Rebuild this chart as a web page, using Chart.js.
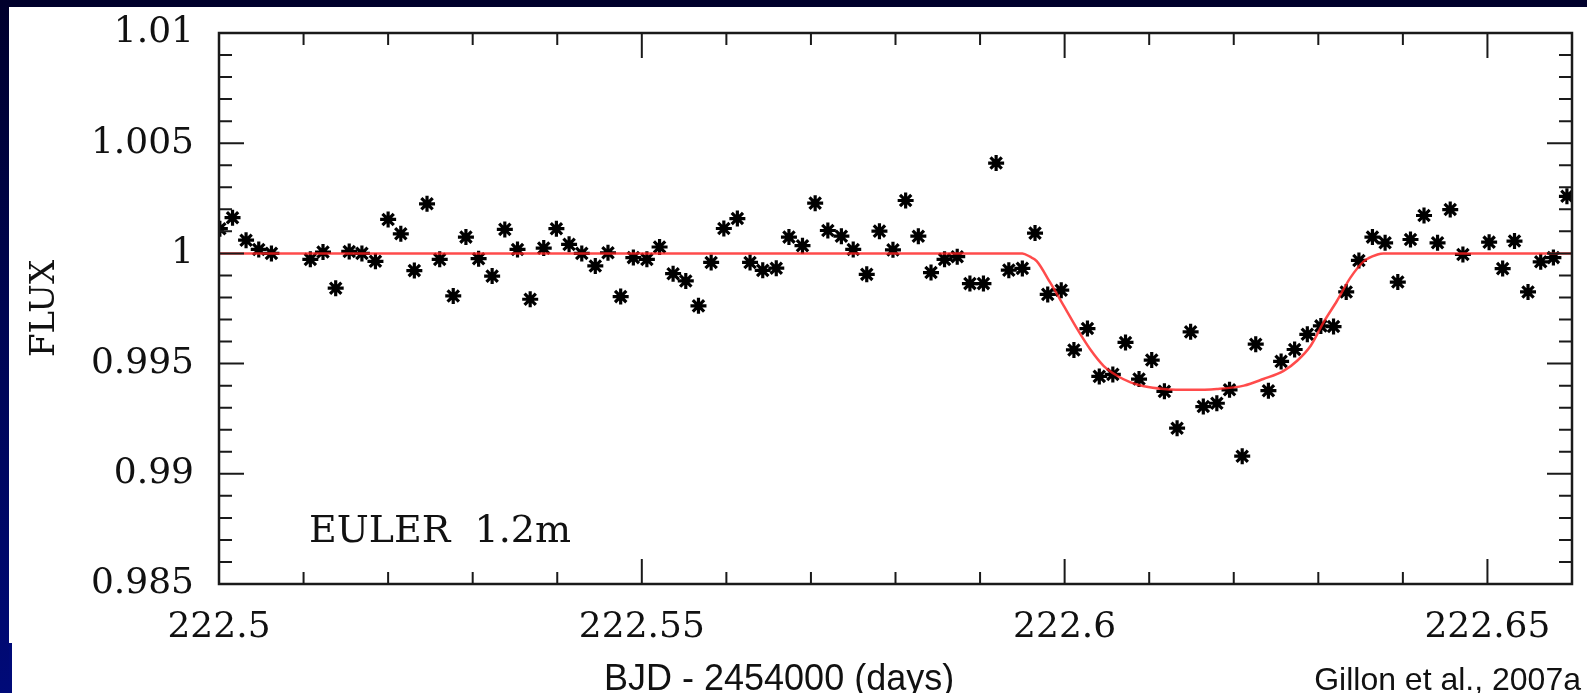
<!DOCTYPE html>
<html>
<head>
<meta charset="utf-8">
<title>EULER 1.2m light curve</title>
<script src="https://cdn.jsdelivr.net/npm/chart.js@4.4.1/dist/chart.umd.min.js"></script>
<style>
  html, body { margin: 0; padding: 0; }
  body {
    width: 1587px; height: 693px; overflow: hidden; position: relative;
    background: linear-gradient(to bottom, #00002c 0%, #000552 45%, #000a78 100%);
  }
  .panel { position: absolute; left: 9px; top: 7px; right: 0; bottom: 0; background: #fff; }
  .notch { position: absolute; left: 9px; top: 643px; width: 3px; height: 50px; background: #000a78; }
  #lc { position: absolute; left: 0; top: 0; }
  .note { position: absolute; white-space: pre; color: #111; line-height: 1; }
  #euler { left: 309px; top: 507px; font: 38px "DejaVu Serif", serif; }
  #xtitle { left: 604px; top: 657px; font: 36px "Liberation Sans", Arial, sans-serif; }
  #cite { right: 6px; top: 661px; font: 32px "Liberation Sans", Arial, sans-serif; }
</style>
</head>
<body>
<div class="panel"></div>
<div class="notch"></div>
<canvas id="lc" width="1587" height="693"></canvas>
<div class="note" id="euler">EULER  1.2m</div>
<div class="note" id="xtitle">BJD - 2454000 (days)</div>
<div class="note" id="cite">Gillon et al., 2007a</div>
<script>
// observed photometry (BJD - 2454000, relative flux)
const obsTime = [
  222.5001, 222.5016, 222.5032, 222.5047, 222.5062, 222.5108, 222.5123, 222.5138, 222.5154, 222.5169,
  222.5185, 222.5200, 222.5215, 222.5231, 222.5246, 222.5261, 222.5277, 222.5292, 222.5307, 222.5323,
  222.5338, 222.5353, 222.5368, 222.5384, 222.5399, 222.5414, 222.5429, 222.5445, 222.5460, 222.5475,
  222.5490, 222.5506, 222.5521, 222.5537, 222.5552, 222.5567, 222.5582, 222.5597, 222.5613, 222.5628,
  222.5643, 222.5659, 222.5674, 222.5690, 222.5705, 222.5720, 222.5736, 222.5750, 222.5766, 222.5781,
  222.5797, 222.5812, 222.5827, 222.5842, 222.5858, 222.5873, 222.5888, 222.5904, 222.5919, 222.5934,
  222.5950, 222.5965, 222.5980, 222.5996, 222.6011, 222.6027, 222.6041, 222.6057, 222.6072, 222.6088,
  222.6103, 222.6118, 222.6133, 222.6149, 222.6164, 222.6180, 222.6195, 222.6210, 222.6226, 222.6241,
  222.6256, 222.6272, 222.6287, 222.6303, 222.6318, 222.6333, 222.6348, 222.6364, 222.6379, 222.6394,
  222.6409, 222.6425, 222.6441, 222.6456, 222.6471, 222.6502, 222.6518, 222.6532, 222.6548, 222.6563,
  222.6578, 222.6594
];
const obsFlux = [
  1.00112, 1.00162, 1.00060, 1.00018, 1.00000, 0.99973, 1.00006, 0.99842, 1.00009, 1.00000,
  0.99964, 1.00154, 1.00089, 0.99922, 1.00225, 0.99973, 0.99807, 1.00074, 0.99976, 0.99897,
  1.00109, 1.00018, 0.99792, 1.00024, 1.00112, 1.00041, 1.00000, 0.99943, 1.00003, 0.99804,
  0.99981, 0.99973, 1.00029, 0.99908, 0.99875, 0.99762, 0.99959, 1.00113, 1.00158, 0.99959,
  0.99923, 0.99933, 1.00074, 1.00035, 1.00228, 1.00104, 1.00078, 1.00018, 0.99905, 1.00101,
  1.00016, 1.00240, 1.00078, 0.99913, 0.99973, 0.99985, 0.99863, 0.99863, 1.00410, 0.99924,
  0.99932, 1.00092, 0.99814, 0.99833, 0.99562, 0.99659, 0.99442, 0.99451, 0.99596, 0.99430,
  0.99516, 0.99374, 0.99207, 0.99644, 0.99305, 0.99320, 0.99381, 0.99080, 0.99588, 0.99377,
  0.99510, 0.99564, 0.99633, 0.99671, 0.99668, 0.99825, 0.99968, 1.00074, 1.00048, 0.99870,
  1.00063, 1.00172, 1.00048, 1.00199, 0.99995, 1.00051, 0.99931, 1.00056, 0.99825, 0.99962,
  0.99981, 1.00259
];

// fitted transit model
const modelTime = [
  222.5000, 222.5950, 222.5959, 222.5967, 222.5983, 222.5999, 222.6015, 222.6030, 222.6046, 222.6062,
  222.6078, 222.6094, 222.6117, 222.6149, 222.6180, 222.6212, 222.6235, 222.6259, 222.6275, 222.6291,
  222.6306, 222.6322, 222.6338, 222.6354, 222.6370, 222.6377, 222.6600
];
const modelFlux = [
  1.00000, 1.00000, 0.99985, 0.99965, 0.99867, 0.99762, 0.99656, 0.99566, 0.99490, 0.99445,
  0.99415, 0.99397, 0.99385, 0.99381, 0.99385, 0.99400, 0.99430, 0.99467, 0.99513, 0.99581,
  0.99686, 0.99784, 0.99890, 0.99965, 0.99995, 1.00000, 1.00000
];

// axis ranges and tick steps
const xRange = [222.5, 222.66];
const yRange = [0.985, 1.01];
const xMinorStep = 0.01, xMajorStep = 0.05;
const yMinorStep = 0.001, yMajorStep = 0.005;

function isMajor(v, step) {
  return Math.abs(Math.round(v / step) * step - v) < 1e-7;
}

// PGPLOT style frame: box on all four sides, ticks pointing inward
const frameTicks = {
  id: 'frameTicks',
  afterDatasetsDraw(chart) {
    const { ctx, chartArea: a, scales: { x, y } } = chart;
    ctx.save();
    ctx.strokeStyle = '#1a1a1a';
    ctx.lineWidth = 2;
    ctx.beginPath();
    x.ticks.forEach(t => {
      const px = x.getPixelForValue(t.value);
      const len = isMajor(t.value, xMajorStep) ? 25 : 12;
      ctx.moveTo(px, a.bottom); ctx.lineTo(px, a.bottom - len);
      ctx.moveTo(px, a.top); ctx.lineTo(px, a.top + len);
    });
    y.ticks.forEach(t => {
      const py = y.getPixelForValue(t.value);
      const len = isMajor(t.value, yMajorStep) ? 25 : 13;
      ctx.moveTo(a.left, py); ctx.lineTo(a.left + len, py);
      ctx.moveTo(a.right, py); ctx.lineTo(a.right - len, py);
    });
    ctx.stroke();
    ctx.lineWidth = 2.5;
    ctx.strokeRect(a.left, a.top, a.right - a.left, a.bottom - a.top);
    ctx.restore();
  }
};

Chart.defaults.font.family = '"DejaVu Serif", serif';
Chart.defaults.color = '#111';

new Chart(document.getElementById('lc'), {
  type: 'scatter',
  data: {
    datasets: [
      {
        label: 'model',
        data: modelTime.map((t, i) => ({ x: t, y: modelFlux[i] })),
        showLine: true,
        cubicInterpolationMode: 'monotone',
        borderColor: 'rgba(255, 30, 30, 0.8)',
        borderWidth: 2.5,
        pointRadius: 0,
        order: 0
      },
      {
        label: 'EULER 1.2m',
        data: obsTime.map((t, i) => ({ x: t, y: obsFlux[i] })),
        pointStyle: 'star',
        pointRadius: 8,
        borderWidth: 3.2,
        borderColor: '#000',
        backgroundColor: '#000',
        order: 1
      }
    ]
  },
  options: {
    responsive: false,
    animation: false,
    layout: { padding: { left: 0, top: 33, right: 15, bottom: 0 } },
    plugins: { legend: { display: false }, tooltip: { enabled: false } },
    scales: {
      x: {
        type: 'linear',
        min: xRange[0], max: xRange[1],
        grid: { display: false, drawTicks: false },
        border: { display: false },
        ticks: {
          stepSize: xMinorStep,
          autoSkip: false,
          maxRotation: 0,
          padding: 22,
          font: { size: 36 },
          callback: v => isMajor(v, xMajorStep) ? String(+v.toFixed(2)) : ''
        },
        afterFit: s => {
          s.height = 109;
          s.paddingLeft = 0;
          s.paddingRight = 0;
        }
      },
      y: {
        type: 'linear',
        min: yRange[0], max: yRange[1],
        grid: { display: false, drawTicks: false },
        border: { display: false },
        title: { display: true, text: 'FLUX', font: { size: 34 }, padding: { top: 25 } },
        ticks: {
          stepSize: yMinorStep,
          autoSkip: false,
          padding: 25,
          font: { size: 36 },
          callback: v => isMajor(v, yMajorStep) ? String(+v.toFixed(3)) : ''
        },
        afterFit: s => {
          s.width = 219;
          s.paddingTop = 0;
          s.paddingBottom = 0;
        }
      }
    }
  },
  plugins: [frameTicks]
});
</script>
</body>
</html>
